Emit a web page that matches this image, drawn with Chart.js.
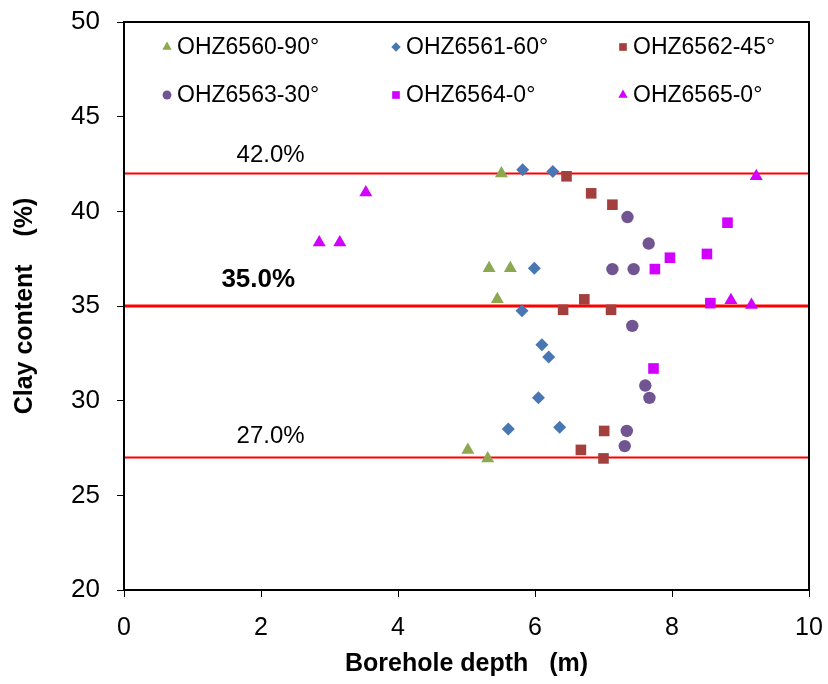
<!DOCTYPE html>
<html>
<head>
<meta charset="utf-8">
<script src="https://cdn.jsdelivr.net/npm/chart.js@4/dist/chart.umd.min.js"></script>
<style>
  html, body { margin: 0; padding: 0; background: #fff; }
  #wrap { width: 828px; height: 684px; }
</style>
</head>
<body>
<div id="wrap"><canvas id="myChart" width="828" height="684"></canvas></div>
<script>
// clay content vs borehole depth, one series per borehole
var seriesNames = ["OHZ6560-90°", "OHZ6561-60°", "OHZ6562-45°", "OHZ6563-30°", "OHZ6564-0°", "OHZ6565-0°"];

var depth6560 = [5.51, 5.33, 5.64, 5.45, 5.02, 5.31];
var clay6560  = [42.0, 37.0, 37.0, 35.35, 27.4, 26.95];

var depth6561 = [5.82, 6.26, 5.99, 5.81, 6.10, 6.20, 6.05, 5.61, 6.36];
var clay6561  = [42.2, 42.1, 37.0, 34.75, 32.95, 32.3, 30.15, 28.5, 28.6];

var depth6562 = [6.46, 6.82, 7.13, 6.41, 6.72, 7.11, 7.01, 6.67, 7.00];
var clay6562  = [41.85, 40.95, 40.35, 34.8, 35.35, 34.8, 28.4, 27.4, 26.95];

var depth6563 = [7.35, 7.66, 7.13, 7.44, 7.42, 7.61, 7.67, 7.34, 7.31];
var clay6563  = [39.7, 38.3, 36.95, 36.95, 33.95, 30.8, 30.15, 28.4, 27.6];

var depth6564 = [8.81, 7.97, 8.51, 7.75, 8.56, 7.73];
var clay6564  = [39.4, 37.55, 37.75, 36.95, 35.15, 31.7];

var depth6565 = [3.53, 2.85, 3.15, 8.86, 9.16, 9.23];
var clay6565  = [41.0, 38.35, 38.35, 35.3, 35.05, 41.85];

// reference levels (red lines)
var levels = [42.0, 35.0, 27.0];

var xTicks = [0, 2, 4, 6, 8, 10];
var yTicks = [20, 25, 30, 35, 40, 45, 50];

var colors = ["#8DA851", "#4877B3", "#A3403D", "#705592", "#D200FF", "#D200FF"];
var styles = ["triangle", "rectRot", "rect", "circle", "rect", "triangle"];
var sizes  = [7.5, 6.5, 7.5, 6.2, 7.5, 7.5];

var FONT = "'Liberation Sans', Arial, sans-serif";

function pts(xs, ys) {
  return xs.map(function (x, i) { return { x: x, y: ys[i] }; });
}

var allX = [depth6560, depth6561, depth6562, depth6563, depth6564, depth6565];
var allY = [clay6560, clay6561, clay6562, clay6563, clay6564, clay6565];

var datasets = seriesNames.map(function (name, i) {
  return {
    label: name,
    data: pts(allX[i], allY[i]),
    pointStyle: styles[i],
    pointRadius: sizes[i],
    pointHoverRadius: sizes[i],
    backgroundColor: colors[i],
    borderColor: colors[i],
    borderWidth: 0,
    showLine: false,
    order: 1
  };
});

levels.forEach(function (v, i) {
  datasets.push({
    label: "level" + i,
    data: [{ x: xTicks[0], y: v }, { x: xTicks[xTicks.length - 1], y: v }],
    showLine: true,
    borderColor: "#FF0000",
    borderWidth: v === 35.0 ? 3 : 2,
    pointRadius: 0,
    fill: false,
    order: 2
  });
});

// frame around plot area + level labels + legend inside the plot
var decorPlugin = {
  id: "decor",
  afterDraw: function (chart) {
    var ctx = chart.ctx, a = chart.chartArea;
    var xs = chart.scales.x, ys = chart.scales.y;
    ctx.save();
    ctx.strokeStyle = "#000";
    ctx.lineWidth = 2;
    ctx.strokeRect(a.left, a.top, a.right - a.left, a.bottom - a.top);

    // level labels
    var labelX = [2.14, 1.96, 2.14];
    var labelOff = [18, 26, 21];
    ctx.fillStyle = "#000";
    ctx.textAlign = "center";
    ctx.textBaseline = "middle";
    levels.forEach(function (v, i) {
      ctx.font = (v === 35.0 ? "bold 26px " : "24px ") + FONT;
      ctx.fillText(v.toFixed(1) + "%", xs.getPixelForValue(labelX[i]), ys.getPixelForValue(v) - labelOff[i]);
    });

    // legend: 2 rows x 3 columns
    var colX = [167, 396, 623];
    var rowY = [47, 95];
    ctx.font = "23px " + FONT;
    ctx.textAlign = "left";
    seriesNames.forEach(function (name, i) {
      var cx = colX[i % 3], cy = rowY[Math.floor(i / 3)];
      ctx.fillStyle = colors[i];
      ctx.strokeStyle = colors[i];
      Chart.helpers.drawPoint(ctx, { pointStyle: styles[i], rotation: 0, radius: sizes[i] * 0.72, borderWidth: 0 }, cx, cy);
      ctx.fillStyle = "#000";
      ctx.fillText(name, cx + 10, cy + 1);
    });
    ctx.restore();
  }
};

new Chart("myChart", {
  type: "scatter",
  data: { datasets: datasets },
  options: {
    responsive: false,
    animation: false,
    layout: { padding: { left: 0, right: 19, top: 22, bottom: 0 } },
    plugins: {
      legend: { display: false },
      tooltip: { enabled: false }
    },
    scales: {
      x: {
        type: "linear",
        min: 0,
        max: 10,
        afterBuildTicks: function (s) { s.ticks = xTicks.map(function (v) { return { value: v }; }); },
        afterFit: function (s) { s.height = 94; s.paddingLeft = 0; s.paddingRight = 0; },
        ticks: { color: "#000", font: { family: FONT, size: 25 }, padding: 16 },
        grid: { drawOnChartArea: false, drawTicks: true, tickLength: 7, color: "#000", lineWidth: 1 },
        border: { display: true, color: "#000", width: 2 },
        title: {
          display: true,
          text: "Borehole depth   (m)",
          color: "#000",
          font: { family: FONT, size: 25, weight: "bold" },
          padding: { top: 0, bottom: 5 }
        }
      },
      y: {
        type: "linear",
        min: 20,
        max: 50,
        afterBuildTicks: function (s) { s.ticks = yTicks.map(function (v) { return { value: v }; }); },
        afterFit: function (s) { s.width = 124; s.paddingTop = 0; s.paddingBottom = 0; },
        ticks: { color: "#000", font: { family: FONT, size: 26 }, padding: 17 },
        grid: { drawOnChartArea: false, drawTicks: true, tickLength: 7, color: "#000", lineWidth: 1 },
        border: { display: true, color: "#000", width: 2 },
        title: {
          display: true,
          text: "Clay content    (%)",
          color: "#000",
          font: { family: FONT, size: 25, weight: "bold" },
          padding: { top: 10, bottom: 0 }
        }
      }
    }
  },
  plugins: [decorPlugin]
});
</script>
</body>
</html>
